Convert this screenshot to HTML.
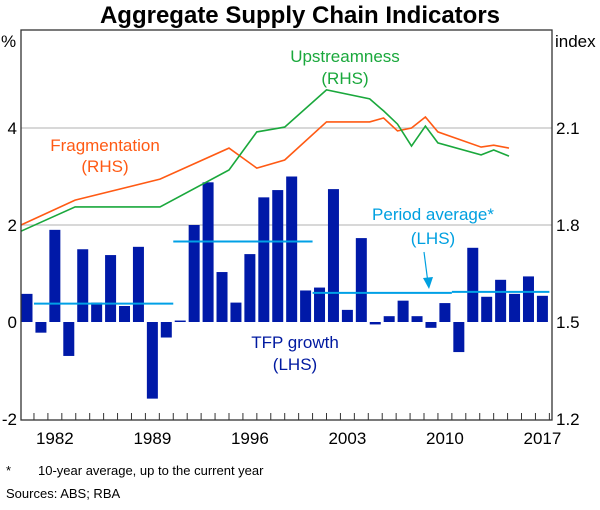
<!DOCTYPE html>
<html><head><meta charset="utf-8"><style>
body{margin:0;background:#fff;}
svg text{font-family:"Liberation Sans",Arial,sans-serif;}
</style></head><body>
<svg id="chart" width="600" height="505" viewBox="0 0 600 505" xmlns="http://www.w3.org/2000/svg">
<text x="300" y="23" font-size="24" font-weight="bold" text-anchor="middle">Aggregate Supply Chain Indicators</text>
<g id="grid"></g>
<g id="bars"></g>
<g id="avgs"></g>
<g id="lines"></g>
<g id="axes"></g>
<text x="345" y="62" font-size="17" fill="#1aa83c" text-anchor="middle">Upstreamness</text>
<text x="345" y="84" font-size="17" fill="#1aa83c" text-anchor="middle">(RHS)</text>
<text x="105" y="151" font-size="17" fill="#ff5a14" text-anchor="middle">Fragmentation</text>
<text x="105" y="172" font-size="17" fill="#ff5a14" text-anchor="middle">(RHS)</text>
<text x="295" y="348" font-size="17" fill="#0019a0" text-anchor="middle">TFP growth</text>
<text x="295" y="370" font-size="17" fill="#0019a0" text-anchor="middle">(LHS)</text>
<text x="433" y="220" font-size="17" fill="#00a0e0" text-anchor="middle">Period average*</text>
<text x="433" y="244" font-size="17" fill="#00a0e0" text-anchor="middle">(LHS)</text>
<line x1="424" y1="252" x2="428" y2="283" stroke="#00a0e0" stroke-width="1.2"/>
<polygon points="423,278 433,277 429,289" fill="#00a0e0"/>
<text x="6" y="475" font-size="13">*</text>
<text x="38" y="475" font-size="13">10-year average, up to the current year</text>
<text x="6" y="498" font-size="13">Sources: ABS; RBA</text>
</svg>
<script>
const years=[1980,1981,1982,1983,1984,1985,1986,1987,1988,1989,1990,1991,1992,1993,1994,1995,1996,1997,1998,1999,2000,2001,2002,2003,2004,2005,2006,2007,2008,2009,2010,2011,2012,2013,2014,2015,2016,2017];
const tfp=[0.58,-0.22,1.9,-0.7,1.5,0.4,1.38,0.33,1.55,-1.58,-0.32,0.03,2.0,2.88,1.03,0.4,1.4,2.57,2.72,3.0,0.65,0.71,2.74,0.25,1.73,-0.05,0.12,0.44,0.12,-0.12,0.39,-0.62,1.53,0.52,0.87,0.58,0.94,0.54];
const avgStart=[1981,1991,2001,2011];
const avgEnd=[1990,2000,2010,2017];
const avgVal=[0.38,1.66,0.6,0.62];
const lineYears=[1979.57,1983.45,1989.55,1994.5,1996.5,1998.5,2001.5,2004.6,2005.6,2006.6,2007.6,2008.6,2009.5,2012.6,2013.5,2014.6];
const frag=[1.8,1.877,1.942,2.038,1.976,2.001,2.119,2.119,2.131,2.091,2.1,2.134,2.088,2.041,2.047,2.038];
const upstream=[1.781,1.856,1.856,1.97,2.088,2.103,2.218,2.19,2.153,2.112,2.044,2.106,2.054,2.017,2.032,2.013];
const lhsTicks=[-2,0,2,4];
const rhsTicks=["1.2","1.5","1.8","2.1"];
const xLabels=[1982,1989,1996,2003,2010,2017];

const L=21,R=552,T=30,B=420;
const yr=13.93;
const x=v=>27+(v-1980)*yr;
const yL=v=>322-v*48.5;
const yR=v=>322-(v-1.5)*323.3;
const NS="http://www.w3.org/2000/svg";
function mk(tag,attrs,parent){const e=document.createElementNS(NS,tag);for(const k in attrs)e.setAttribute(k,attrs[k]);parent.appendChild(e);return e;}
const grid=document.getElementById('grid'),bars=document.getElementById('bars'),avgs=document.getElementById('avgs'),lines=document.getElementById('lines'),axes=document.getElementById('axes');
[2,4].forEach(v=>{const g=mk('line',{x1:L,x2:R,y1:yL(v),y2:yL(v),stroke:'#c0c0c0','stroke-width':1.3},grid);

});
years.forEach((yv,i)=>{const v=tfp[i];const y0=yL(0),y1=yL(v);
const r=mk('rect',{x:x(yv)-5.5,y:Math.min(y0,y1),width:11,height:Math.abs(y1-y0),fill:'#0019a8'},bars);

});
avgVal.forEach((v,i)=>{const l=mk('line',{x1:x(avgStart[i]-0.5),x2:x(avgEnd[i]+0.5),y1:yL(v),y2:yL(v),stroke:'#00a0e6','stroke-width':2},avgs);

});
function path(vals,color,name){const d=vals.map((v,i)=>(i?'L':'M')+x(lineYears[i]).toFixed(1)+','+yR(v).toFixed(1)).join(' ');
const p=mk('path',{d:d,fill:'none',stroke:color,'stroke-width':1.6},lines);

}
path(frag,'#ff5a14','fragmentation-line');
path(upstream,'#1aa83c','upstreamness-line');
const frame=mk('rect',{x:L,y:T,width:R-L,height:B-T,fill:'none',stroke:'#333','stroke-width':1.3},axes);


for(let yv=1980;yv<=2017;yv++){const tx=x(yv)+yr/2;if(tx>=R-1)continue;
const t=mk('line',{x1:tx,x2:tx,y1:B,y2:B-7,stroke:'#333','stroke-width':1},axes);

}
xLabels.forEach(v=>{const t=mk('text',{x:x(v),y:B+24,'font-size':17,'text-anchor':'middle'},axes);t.textContent=v;

});
lhsTicks.forEach(v=>{const t=mk('text',{x:17,y:yL(v)+6,'font-size':17,'text-anchor':'end'},axes);t.textContent=v;

});
rhsTicks.forEach(v=>{const t=mk('text',{x:556,y:yR(parseFloat(v))+6,'font-size':17},axes);t.textContent=v;

});
const pu=mk('text',{x:1,y:47,'font-size':17},axes);pu.textContent='%';


const iu=mk('text',{x:555,y:47,'font-size':17},axes);iu.textContent='index';


</script>
</body></html>
